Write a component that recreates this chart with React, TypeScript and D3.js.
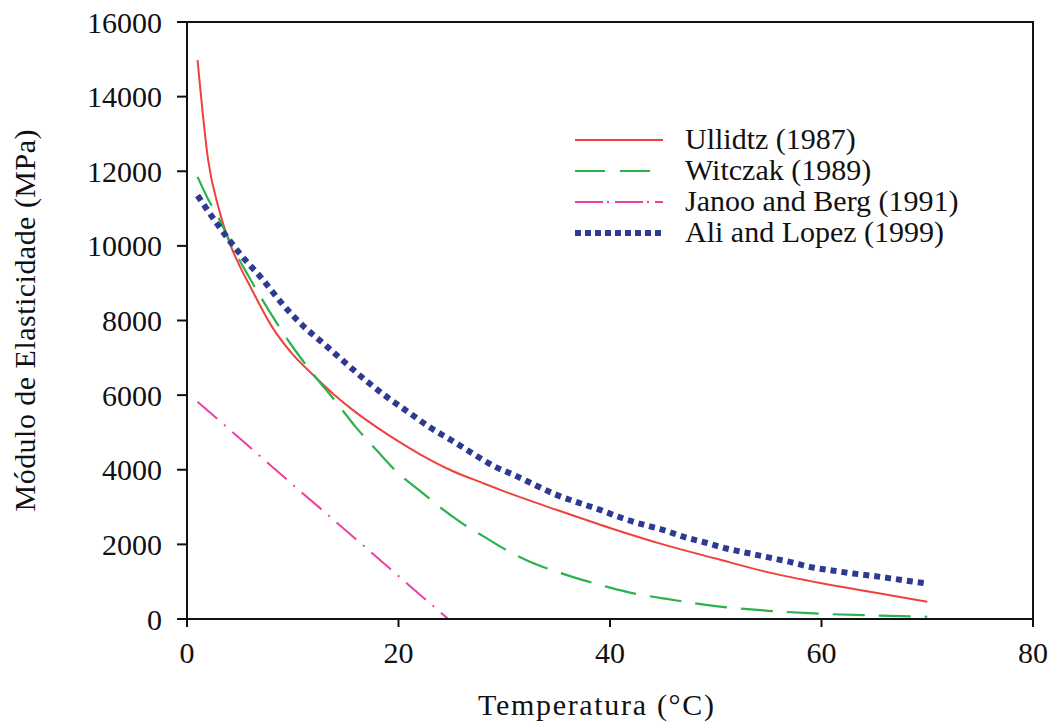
import React from 'react';
import * as d3 from 'd3';

// values
const ullidtzT = [1, 2, 3, 4, 5, 6, 8, 10, 12, 14, 16, 18, 20, 22, 25, 28, 30, 35, 40, 45, 50, 55, 60, 65, 70];
const ullidtzE = [14980, 12300, 11000, 10100, 9450, 8900, 7850, 7090, 6520, 5990, 5530, 5130, 4760, 4420, 3980, 3640, 3420, 2920, 2440, 2000, 1620, 1250, 960, 710, 460];

const witczakT = [1, 2, 3, 4, 5, 6, 8, 10, 12, 14, 16, 18, 20, 22, 24, 26, 28, 30, 32, 34, 36, 38, 40, 42, 45, 50, 55, 60, 65, 70];
const witczakE = [11850, 11250, 10750, 10150, 9600, 9100, 8150, 7290, 6540, 5850, 5130, 4500, 3900, 3440, 2980, 2570, 2220, 1880, 1590, 1360, 1170, 1000, 840, 700, 555, 345, 220, 140, 95, 60];

const janooT = [1, 5, 10, 15, 20, 24.7];
const janooE = [5820, 4840, 3600, 2380, 1150, 0];

const aliT = [1, 3, 5, 7, 9, 11, 13, 15, 17, 19, 21, 23, 25, 27, 29, 31, 33, 35, 37, 39, 41, 43, 45, 47, 49, 51, 53, 55, 57, 59, 61, 63, 65, 67, 70];
const aliE = [11350, 10530, 9790, 9150, 8450, 7850, 7360, 6860, 6370, 5930, 5530, 5130, 4790, 4440, 4100, 3850, 3580, 3320, 3120, 2930, 2720, 2540, 2390, 2200, 2050, 1890, 1770, 1650, 1530, 1390, 1300, 1220, 1150, 1070, 950];

const xTicks = [0, 20, 40, 60, 80];
const yTicks = [0, 2000, 4000, 6000, 8000, 10000, 12000, 14000, 16000];

const series = [
  { name: 'Ullidtz (1987)', t: ullidtzT, e: ullidtzE, color: '#f0413c', width: 2, dash: '', legendDash: '' },
  { name: 'Witczak (1989)', t: witczakT, e: witczakE, color: '#2bb24c', width: 2.2, dash: '32 14', legendDash: '30 15' },
  { name: 'Janoo and Berg (1991)', t: janooT, e: janooE, color: '#ec3fa0', width: 2, dash: '26 9 2 9', legendDash: '28 4 2 6' },
  { name: 'Ali and Lopez (1999)', t: aliT, e: aliE, color: '#2e3a92', width: 6, dash: '6 5', legendDash: '6 4' },
];

const W = 1052;
const H = 728;
const margin = { top: 22, right: 19, bottom: 109, left: 187 };
const font = '"Liberation Serif", "Times New Roman", serif';

export default function App() {
  const x = d3.scaleLinear().domain([0, 80]).range([margin.left, W - margin.right]);
  const y = d3.scaleLinear().domain([0, 16000]).range([H - margin.bottom, margin.top]);

  const line = d3
    .line<[number, number]>()
    .x(d => x(d[0]))
    .y(d => y(d[1]))
    .curve(d3.curveMonotoneX);

  const x0 = margin.left;
  const x1 = W - margin.right;
  const y0 = H - margin.bottom;
  const y1 = margin.top;

  return (
    <svg width={W} height={H} style={{ position: 'absolute', left: 0, top: 0, background: '#fff' }}>
      <rect x={0} y={0} width={W} height={H} fill="#fff" />

      {/* curves */}
      {series.map(s => (
        <path
          key={s.name}
          d={line(s.t.map((t, i) => [t, s.e[i]] as [number, number])) || ''}
          fill="none"
          stroke={s.color}
          strokeWidth={s.width}
          strokeDasharray={s.dash || undefined}
        />
      ))}

      {/* frame */}
      <rect x={x0} y={y1} width={x1 - x0} height={y0 - y1} fill="none" stroke="#111" strokeWidth={2} />

      {/* y ticks */}
      {yTicks.map(v => (
        <g key={'y' + v}>
          <line x1={x0 - 10} x2={x0} y1={y(v)} y2={y(v)} stroke="#111" strokeWidth={2} />
          <text x={x0 - 25} y={y(v)} dy="0.35em" textAnchor="end" fontFamily={font} fontSize={30} fill="#111">
            {v}
          </text>
        </g>
      ))}

      {/* x ticks */}
      {xTicks.map(v => (
        <g key={'x' + v}>
          <line x1={x(v)} x2={x(v)} y1={y0} y2={y0 + 8} stroke="#111" strokeWidth={2} />
          <text x={x(v)} y={663} textAnchor="middle" fontFamily={font} fontSize={30} fill="#111">
            {v}
          </text>
        </g>
      ))}

      {/* axis titles */}
      <text
        x={596}
        y={715}
        textAnchor="middle"
        fontFamily={font}
        fontSize={30}
        fill="#111"
        textLength={236}
        lengthAdjust="spacing"
      >
        Temperatura (°C)
      </text>
      <text
        transform={`translate(35, ${(y0 + y1) / 2}) rotate(-90)`}
        textAnchor="middle"
        fontFamily={font}
        fontSize={30}
        fill="#111"
        textLength={382}
        lengthAdjust="spacing"
      >
        Módulo de Elasticidade (MPa)
      </text>

      {/* legend */}
      {series.map((s, i) => {
        const ly = 140 + i * 31;
        return (
          <g key={'lg' + s.name}>
            <line
              x1={575}
              x2={663}
              y1={ly}
              y2={ly}
              stroke={s.color}
              strokeWidth={s.width}
              strokeDasharray={s.legendDash || undefined}
            />
            <text x={685} y={ly + 9} fontFamily={font} fontSize={30} fill="#111">
              {s.name}
            </text>
          </g>
        );
      })}
    </svg>
  );
}
